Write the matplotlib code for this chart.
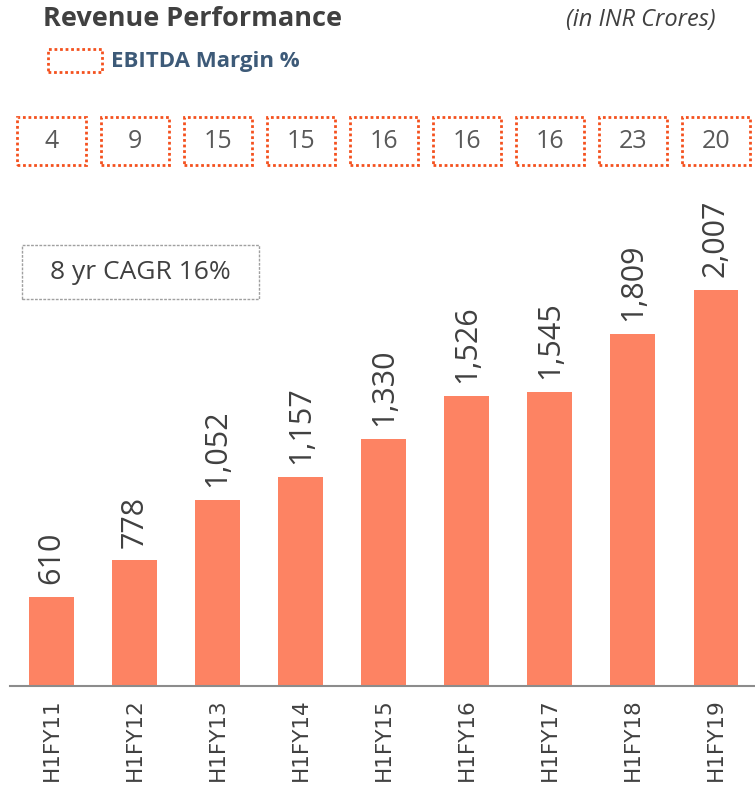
import matplotlib.pyplot as plt
import matplotlib.transforms as mtransforms
from matplotlib.patches import Rectangle

# half-year revenue (INR crores) and EBITDA margin
periods = ['H1FY11', 'H1FY12', 'H1FY13', 'H1FY14', 'H1FY15',
           'H1FY16', 'H1FY17', 'H1FY18', 'H1FY19']
revenue = [610, 778, 1052, 1157, 1330, 1526, 1545, 1809, 2007]
ebitda_margin = [4, 9, 15, 15, 16, 16, 16, 23, 20]
cagr_note = '8 yr CAGR 16%'

bar_color = '#fd8363'
box_color = '#f4511e'
text_color = '#404040'

plt.rcParams['font.family'] = ['Open Sans', 'DejaVu Sans']

fig = plt.figure(figsize=(7.55, 7.87), dpi=100)
ax = fig.add_axes([10 / 755, 101 / 787, 745 / 755, 476 / 787])

x = range(len(periods))
ax.bar(x, revenue, width=0.54, color=bar_color)
for i, v in enumerate(revenue):
    ax.annotate(f'{v:,}', (i, v), xytext=(0, 9), textcoords='offset points',
                rotation=90, ha='center', va='bottom', fontsize=22,
                color=text_color)

ax.set_xlim(-0.5, 8.47)
ax.set_ylim(205, 2371)
ax.set_xticks(list(x))
ax.set_xticklabels(periods, rotation=90, fontsize=15.5, color=text_color,
                   family='DejaVu Sans')
ax.tick_params(axis='x', length=0, pad=9)
ax.set_yticks([])
for s in ['top', 'right', 'left']:
    ax.spines[s].set_visible(False)
ax.spines['bottom'].set_color('#8c8c8c')
ax.spines['bottom'].set_linewidth(1.5)

# margin boxes sit above each bar
trans = mtransforms.blended_transform_factory(ax.transData, fig.transFigure)
for i, m in enumerate(ebitda_margin):
    fig.add_artist(Rectangle((i - 0.41, 1 - 165 / 787), 0.82, 48 / 787,
                             transform=trans, fill=False, edgecolor=box_color,
                             linestyle=(0, (1, 1)), linewidth=2))
    fig.text(i, 1 - 141 / 787, str(m), transform=trans, ha='center',
             va='center', fontsize=18, color='#595959')

# CAGR callout
fig.add_artist(Rectangle((22 / 755, 1 - 299 / 787), 237 / 755, 54 / 787,
                         transform=fig.transFigure, fill=False,
                         edgecolor='#a0a0a0', linestyle=(0, (2, 1)),
                         linewidth=1))
fig.text(140 / 755, 1 - 272 / 787, cagr_note, ha='center', va='center',
         fontsize=19, color=text_color)

# header
fig.text(43 / 755, 1 - 19 / 787, 'Revenue Performance', ha='left',
         va='center', fontsize=19.5, fontweight='bold', color=text_color)
fig.text(716 / 755, 1 - 20 / 787, '(in INR Crores)', ha='right',
         va='center', fontsize=17, style='italic', color=text_color)
fig.add_artist(Rectangle((48 / 755, 1 - 72 / 787), 54 / 755, 23 / 787,
                         transform=fig.transFigure, fill=False,
                         edgecolor=box_color, linestyle=(0, (1, 1)),
                         linewidth=2))
fig.text(111 / 755, 1 - 62 / 787, 'EBITDA Margin %', ha='left',
         va='center', fontsize=16, fontweight='bold', color='#3d5a78')

fig.savefig('out.png', dpi=100)
